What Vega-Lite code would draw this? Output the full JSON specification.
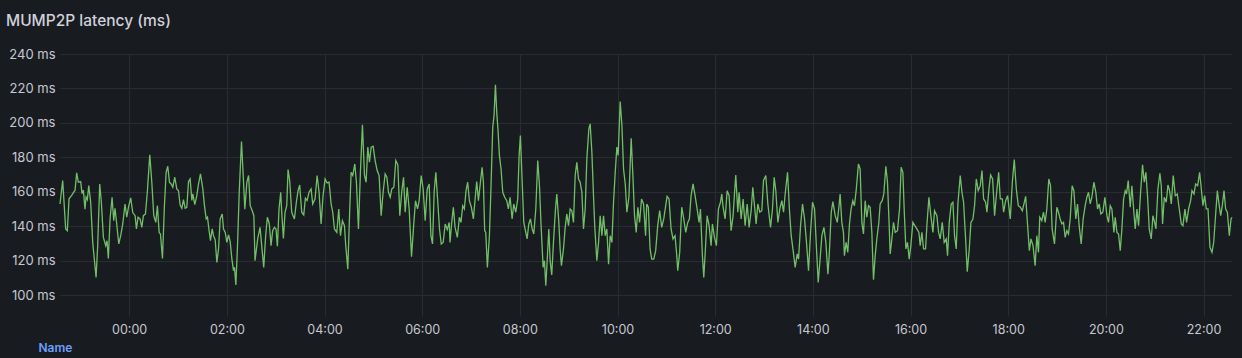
{
  "$schema": "https://vega.github.io/schema/vega-lite/v6.json",
  "width": 1172,
  "height": 262,
  "autosize": {"type": "none"},
  "padding": {"left": 60, "top": 54, "right": 10, "bottom": 42},
  "background": "#181b1f",
  "title": {
    "text": "MUMP2P latency (ms)",
    "anchor": "start",
    "frame": "group",
    "dx": -54,
    "offset": 19,
    "font": "Inter",
    "fontSize": 15.5,
    "fontWeight": 500,
    "color": "#d0d1dc"
  },
  "config": {
    "view": {"stroke": null},
    "font": "Inter"
  },
  "data": {
    "values": [
      {"m":-85,"v":153},{"m":-81.7,"v":166.6},{"m":-78,"v":138.5},{"m":-76,"v":137.5},{"m":-73.9,"v":156},{"m":-70.7,"v":158},{"m":-66.5,"v":161},{"m":-64.5,"v":171},{"m":-62.5,"v":165.6},{"m":-59.6,"v":166},{"m":-57.9,"v":159},{"m":-56.3,"v":161},{"m":-54.3,"v":150},{"m":-53,"v":157},{"m":-51.4,"v":155.5},{"m":-49.7,"v":163.6},{"m":-47.3,"v":154},{"m":-44.8,"v":130.7},{"m":-40.7,"v":110.4},{"m":-38.7,"v":128.8},{"m":-36.2,"v":164.6},{"m":-34.2,"v":154},{"m":-31.7,"v":133.6},{"m":-28.8,"v":128.8},{"m":-27.2,"v":131.7},{"m":-25.6,"v":121.4},{"m":-23.5,"v":144.3},{"m":-21,"v":156.9},{"m":-19,"v":143.3},{"m":-17.4,"v":150.5},{"m":-15.3,"v":141.4},{"m":-12.8,"v":129.8},{"m":-10.4,"v":134.6},{"m":-7.9,"v":141.4},{"m":-5.1,"v":153},{"m":-3,"v":145.3},{"m":-0.9,"v":151},{"m":1.9,"v":156.5},{"m":4.4,"v":148},{"m":7.3,"v":146.2},{"m":8.9,"v":138.5},{"m":10.9,"v":145.3},{"m":13.4,"v":144.3},{"m":15.5,"v":139.4},{"m":17.5,"v":146.2},{"m":20,"v":147.2},{"m":22.4,"v":160.7},{"m":25.3,"v":181.5},{"m":27.8,"v":165.6},{"m":30.2,"v":146.2},{"m":32.7,"v":142.3},{"m":34.7,"v":152},{"m":36.8,"v":136.5},{"m":38.4,"v":135.6},{"m":40.9,"v":121.4},{"m":43.3,"v":152},{"m":45.4,"v":171.4},{"m":47.4,"v":174.9},{"m":49.5,"v":165.6},{"m":51.5,"v":164.6},{"m":53.6,"v":162.7},{"m":56,"v":168.5},{"m":58.5,"v":161.7},{"m":60.6,"v":160.7},{"m":62.6,"v":152.4},{"m":64.7,"v":150.5},{"m":66.7,"v":155.5},{"m":68.8,"v":150.5},{"m":70.8,"v":151},{"m":72.9,"v":166},{"m":74.9,"v":167.5},{"m":77,"v":155},{"m":78.2,"v":158.8},{"m":80.6,"v":152.6},{"m":83.1,"v":157.8},{"m":85.2,"v":164.6},{"m":87.6,"v":170.4},{"m":90.5,"v":161.7},{"m":92.5,"v":152},{"m":94.6,"v":144.3},{"m":96.2,"v":145.3},{"m":98.3,"v":137},{"m":99.9,"v":131.7},{"m":102,"v":138.5},{"m":103.6,"v":134.6},{"m":105.7,"v":132.1},{"m":107.7,"v":119.1},{"m":109.8,"v":126.9},{"m":111.8,"v":144.3},{"m":114.3,"v":147.2},{"m":115.9,"v":138.5},{"m":118,"v":136.5},{"m":120,"v":130.7},{"m":122.1,"v":135},{"m":124.1,"v":131.1},{"m":126.2,"v":121},{"m":128.2,"v":114.3},{"m":129.4,"v":116.2},{"m":131.1,"v":106},{"m":133.1,"v":128.8},{"m":135.2,"v":159.8},{"m":138,"v":189.2},{"m":140.1,"v":169.5},{"m":142.1,"v":150},{"m":144.6,"v":165.6},{"m":146.7,"v":169.5},{"m":148.7,"v":152},{"m":151.2,"v":149.1},{"m":153.2,"v":146.2},
      {"m":154.6,"v":120.1},{"m":157.9,"v":132.7},{"m":160.8,"v":139.4},{"m":162.8,"v":128.8},{"m":165.3,"v":116.2},{"m":167.7,"v":134.6},{"m":169.8,"v":145.3},{"m":172.2,"v":141.4},{"m":174.3,"v":128.8},{"m":176.3,"v":137.5},{"m":178.4,"v":139.4},{"m":180.4,"v":138.5},{"m":182.1,"v":128.5},{"m":184.1,"v":150.1},{"m":186.2,"v":159.8},{"m":187.4,"v":148.2},{"m":189.5,"v":133},{"m":191.5,"v":148.2},{"m":193.6,"v":152},{"m":195.2,"v":173},{"m":197.2,"v":166.6},{"m":199.7,"v":148.2},{"m":203,"v":144.3},{"m":205.4,"v":154},{"m":207.5,"v":160.7},{"m":209.5,"v":164},{"m":212,"v":148.2},{"m":214.5,"v":146.6},{"m":216.5,"v":156.3},{"m":218.6,"v":155},{"m":221,"v":159.8},{"m":223.5,"v":161.7},{"m":225.5,"v":153},{"m":228.4,"v":156},{"m":230.9,"v":169.5},{"m":233.3,"v":159.8},{"m":235.8,"v":141.4},{"m":238.2,"v":157.8},{"m":240.7,"v":167.5},{"m":243.2,"v":165.2},{"m":245.6,"v":165.6},{"m":248.1,"v":153},{"m":250.1,"v":148.2},{"m":252.2,"v":138.5},{"m":255.1,"v":136.5},{"m":257.5,"v":150.1},{"m":259.6,"v":134.6},{"m":262,"v":143.3},{"m":264.5,"v":140.4},{"m":266.1,"v":128.8},{"m":268.6,"v":115.2},{"m":271,"v":150.1},{"m":272.7,"v":171.4},{"m":274.7,"v":169.5},{"m":277.2,"v":176.2},{"m":279.2,"v":165.6},{"m":281.7,"v":138.5},{"m":284.2,"v":172.4},{"m":286.6,"v":198.9},{"m":289.1,"v":169.5},{"m":291.1,"v":165.6},{"m":293.2,"v":186},{"m":295.2,"v":177.2},{"m":297.3,"v":186},{"m":299.7,"v":186.5},{"m":302.2,"v":178.2},{"m":304.7,"v":172.4},{"m":307.1,"v":169.5},{"m":309.6,"v":146.2},{"m":312,"v":159.8},{"m":314.5,"v":170.4},{"m":316.6,"v":168.5},{"m":318.6,"v":159.8},{"m":320.7,"v":156.9},{"m":322.7,"v":161.7},{"m":325.2,"v":162.7},{"m":327.6,"v":178.2},{"m":330.1,"v":175.7},{"m":332.5,"v":146.2},{"m":335,"v":160.7},{"m":337.1,"v":168.5},{"m":339.1,"v":148.2},{"m":341.6,"v":162.7},{"m":344,"v":150.1},{"m":346.9,"v":122.4},{"m":349.8,"v":142.3},{"m":351.8,"v":154.9},{"m":354.3,"v":150.1},{"m":356.3,"v":154.9},{"m":358.8,"v":169.5},{"m":361.2,"v":161.7},{"m":363.7,"v":143.3},{"m":366.2,"v":161.7},{"m":368.6,"v":164.6},{"m":370.7,"v":134.6},{"m":372.7,"v":129.8},{"m":374.8,"v":160.7},{"m":376.8,"v":171.4},{"m":378.9,"v":155.9},{"m":381.3,"v":138.5},{"m":383.4,"v":129.8},{"m":385.8,"v":130.7},{"m":388.3,"v":141.4},{"m":390.8,"v":138.1},{"m":393.2,"v":142.3},
      {"m":394.2,"v":130.7},{"m":396.3,"v":142.3},{"m":398.3,"v":151.1},{"m":400.4,"v":139.4},{"m":403.2,"v":133.6},{"m":405.7,"v":145.3},{"m":407.7,"v":142.3},{"m":409.8,"v":152},{"m":411.8,"v":150.1},{"m":413.9,"v":160.7},{"m":415.9,"v":165.6},{"m":418,"v":154.9},{"m":420.4,"v":151.1},{"m":422.9,"v":144.3},{"m":425.4,"v":157.8},{"m":427,"v":166},{"m":429.1,"v":154.9},{"m":431.1,"v":163.6},{"m":433.6,"v":174.3},{"m":435.2,"v":165.6},{"m":436.8,"v":137.5},{"m":438.1,"v":136.5},{"m":440.1,"v":116.2},{"m":442.6,"v":134.6},{"m":444.6,"v":163.6},{"m":446.7,"v":197.5},{"m":448.3,"v":204.3},{"m":450,"v":222.1},{"m":451.6,"v":206.3},{"m":453.2,"v":195.6},{"m":454.9,"v":181.1},{"m":456.9,"v":173.3},{"m":459,"v":159.8},{"m":461.4,"v":156.9},{"m":463.9,"v":154.9},{"m":465.9,"v":150.1},{"m":468,"v":156.9},{"m":470.5,"v":144.3},{"m":472.5,"v":153},{"m":475,"v":148.2},{"m":477.4,"v":155.9},{"m":479.1,"v":181.1},{"m":480.7,"v":192.7},{"m":482.8,"v":166.6},{"m":484.8,"v":142.3},{"m":487.3,"v":136.5},{"m":488.9,"v":132.7},{"m":491,"v":141.4},{"m":493,"v":144.3},{"m":495.1,"v":138.5},{"m":497.1,"v":135.6},{"m":499.6,"v":150.1},{"m":502,"v":178.2},{"m":504.1,"v":163.6},{"m":506.1,"v":140.4},{"m":508.6,"v":116.2},{"m":510.2,"v":120.1},{"m":511.9,"v":105.6},{"m":513.9,"v":123.1},{"m":515.6,"v":138.5},{"m":517.2,"v":120.1},{"m":519.2,"v":111.8},{"m":521.3,"v":130.7},{"m":523.8,"v":150.1},{"m":525.4,"v":158.8},{"m":527.9,"v":142.3},{"m":529.5,"v":126.9},{"m":531.1,"v":117.2},{"m":533.6,"v":126.9},{"m":535.7,"v":139.4},{"m":537.7,"v":147.2},{"m":539.8,"v":140.4},{"m":541.8,"v":150.1},{"m":543.9,"v":149.1},{"m":545.9,"v":142.3},{"m":548,"v":169.5},{"m":550,"v":177.2},{"m":552.1,"v":167.5},{"m":554.1,"v":165.6},{"m":556.2,"v":159.8},{"m":558.2,"v":138.5},{"m":560.3,"v":150.1},{"m":562.3,"v":179.1},{"m":564.8,"v":196.6},{"m":566.4,"v":199.5},{"m":568.5,"v":183},{"m":570.5,"v":157.8},{"m":572.1,"v":139.4},{"m":574.6,"v":120.1},{"m":576.7,"v":130.7},{"m":578.7,"v":146.2},{"m":580.8,"v":134.6},{"m":582.8,"v":146.2},{"m":584.9,"v":134.6},{"m":586.9,"v":138.5},{"m":589,"v":118.1},{"m":591,"v":134.6},{"m":593.1,"v":130.7},{"m":595.1,"v":154},{"m":597.2,"v":171.4},{"m":599.2,"v":186},{"m":600.8,"v":181.1},{"m":603.3,"v":212.4},{"m":605.4,"v":198.5},{"m":607.4,"v":173.3},{"m":609.5,"v":164.6},{"m":611.5,"v":148.2},{"m":614,"v":156.9},{"m":616.8,"v":191.1},{"m":618.9,"v":169.5},{"m":620.9,"v":146.2},{"m":623,"v":136.5},{"m":625,"v":151.1},{"m":627.1,"v":142.3},{"m":629.5,"v":155.9},{"m":632,"v":153},{"m":634.5,"v":134.6},
      {"m":635.9,"v":153},{"m":637.9,"v":151.1},{"m":640,"v":126.9},{"m":642,"v":121},{"m":644.5,"v":121},{"m":646.9,"v":125.9},{"m":649.4,"v":140.4},{"m":651.8,"v":149.1},{"m":654.3,"v":139.4},{"m":656.8,"v":144.3},{"m":659.2,"v":152},{"m":660.9,"v":157.4},{"m":663.3,"v":155.9},{"m":665.8,"v":138.5},{"m":668.2,"v":132.7},{"m":670.7,"v":134.6},{"m":672.8,"v":123},{"m":674,"v":114.3},{"m":676.4,"v":124.9},{"m":678.9,"v":151.1},{"m":681.4,"v":144.3},{"m":683.8,"v":136.5},{"m":686.3,"v":142.3},{"m":688.3,"v":144.3},{"m":690.4,"v":157.8},{"m":692.8,"v":164.6},{"m":695.3,"v":157.8},{"m":697.8,"v":150.1},{"m":700.2,"v":142.3},{"m":701.9,"v":150.1},{"m":704.3,"v":123},{"m":706,"v":110.4},{"m":708,"v":126.9},{"m":710.1,"v":146.2},{"m":712.5,"v":140.4},{"m":715,"v":128.8},{"m":716.6,"v":141.4},{"m":719.1,"v":133.6},{"m":721.5,"v":128.8},{"m":724,"v":150.1},{"m":726.5,"v":154},{"m":728.1,"v":158.8},{"m":729.7,"v":151.1},{"m":732.2,"v":144.3},{"m":734.7,"v":160.7},{"m":737.1,"v":157.8},{"m":739.6,"v":137.5},{"m":742,"v":146.2},{"m":743.7,"v":158.8},{"m":745.3,"v":169.8},{"m":747.8,"v":148.2},{"m":749.4,"v":159.8},{"m":751.9,"v":144.3},{"m":754.3,"v":155.9},{"m":756.8,"v":140.4},{"m":759.3,"v":153},{"m":761.7,"v":139.4},{"m":764.2,"v":149.1},{"m":766.2,"v":162.7},{"m":768.3,"v":152},{"m":770.3,"v":141.4},{"m":772.4,"v":153},{"m":774.8,"v":148.2},{"m":777.3,"v":149.1},{"m":779.4,"v":166.6},{"m":782.2,"v":169.5},{"m":784.7,"v":153},{"m":788,"v":139.4},{"m":790.4,"v":150.1},{"m":792.5,"v":168.5},{"m":794.5,"v":160.7},{"m":797,"v":142.3},{"m":799.4,"v":150.1},{"m":801.9,"v":154.9},{"m":804,"v":148.2},{"m":806,"v":158.8},{"m":808.9,"v":171.4},{"m":811.3,"v":149.1},{"m":813.4,"v":134.6},{"m":815.8,"v":125.9},{"m":818.3,"v":116.2},{"m":820.8,"v":124},{"m":822.4,"v":121},{"m":824.9,"v":140.4},{"m":827.3,"v":153},{"m":829.8,"v":144.3},{"m":832.2,"v":130.7},{"m":834.7,"v":114.3},{"m":837.2,"v":136.5},{"m":839.6,"v":154},{"m":842.1,"v":150.1},{"m":844.5,"v":126.9},{"m":846.6,"v":107.5},{"m":848.6,"v":119.1},{"m":851.1,"v":134.6},{"m":853.6,"v":139.4},{"m":856,"v":130.7},{"m":858.5,"v":112.3},{"m":860.1,"v":123},{"m":862.6,"v":148.2},{"m":864.6,"v":154.4},{"m":867.5,"v":146.2},{"m":870,"v":142.3},{"m":872.4,"v":153},
      {"m":873.5,"v":158.8},{"m":875.6,"v":142.3},{"m":877.6,"v":136.5},{"m":878.8,"v":123},{"m":880.9,"v":130.7},{"m":882.9,"v":124.9},{"m":885,"v":141.4},{"m":887,"v":150.1},{"m":889.1,"v":154.9},{"m":891.1,"v":152},{"m":893.2,"v":160.7},{"m":896,"v":176.2},{"m":898.1,"v":173.3},{"m":900.2,"v":142.3},{"m":902.2,"v":135.6},{"m":904.3,"v":154.9},{"m":906.3,"v":145.3},{"m":908.4,"v":152},{"m":910.4,"v":151.1},{"m":912.5,"v":136.5},{"m":914.5,"v":109},{"m":916.6,"v":123},{"m":918.6,"v":132.7},{"m":921.1,"v":142.3},{"m":922.7,"v":153},{"m":925.2,"v":154.9},{"m":927.2,"v":158.8},{"m":929.7,"v":174.9},{"m":931.7,"v":165.6},{"m":933.8,"v":140.4},{"m":935,"v":124},{"m":937.1,"v":132.7},{"m":939.1,"v":142.3},{"m":941.2,"v":136.5},{"m":944,"v":137.5},{"m":946.5,"v":150.1},{"m":948.5,"v":174.3},{"m":950.6,"v":171.4},{"m":952.2,"v":150.1},{"m":954.3,"v":126.9},{"m":956.3,"v":130.7},{"m":958.4,"v":121},{"m":960.4,"v":128.8},{"m":962.9,"v":142.3},{"m":965.3,"v":140.4},{"m":967.8,"v":138.5},{"m":970.3,"v":136.5},{"m":971.9,"v":128.8},{"m":974,"v":136.5},{"m":976,"v":126.9},{"m":978.5,"v":126.9},{"m":980.1,"v":140.4},{"m":982.6,"v":156.9},{"m":985,"v":146.2},{"m":987.5,"v":136.5},{"m":989.5,"v":149.1},{"m":992.4,"v":146.2},{"m":994.5,"v":136.5},{"m":996.5,"v":132.7},{"m":999,"v":142.3},{"m":1001.4,"v":130.7},{"m":1003.9,"v":132.7},{"m":1005.5,"v":123},{"m":1007.6,"v":142.3},{"m":1010,"v":153},{"m":1012.1,"v":154},{"m":1014.1,"v":134.6},{"m":1016.2,"v":126.9},{"m":1018.2,"v":153},{"m":1021.1,"v":169.5},{"m":1023.2,"v":159.8},{"m":1025.2,"v":154},{"m":1027.7,"v":132.7},{"m":1029.7,"v":113.7},{"m":1032.2,"v":126.9},{"m":1034.2,"v":142.3},{"m":1036.7,"v":144.3},{"m":1038.7,"v":152},{"m":1040.8,"v":167.5},{"m":1043.2,"v":160.7},{"m":1045.7,"v":163.6},{"m":1047.8,"v":172.4},{"m":1049.8,"v":155.9},{"m":1052.3,"v":154},{"m":1053.9,"v":148.2},{"m":1056.4,"v":161.7},{"m":1058.4,"v":169.8},{"m":1060.9,"v":167.5},{"m":1063.3,"v":146.2},{"m":1065.4,"v":157.8},{"m":1068.3,"v":171.4},{"m":1070.3,"v":155.9},{"m":1072.8,"v":155.9},{"m":1074.4,"v":148.2},{"m":1076.9,"v":154.9},{"m":1079.3,"v":157.8},{"m":1082.6,"v":144.3},{"m":1085.1,"v":165.6},{"m":1087.5,"v":178.8},{"m":1090,"v":161.7},{"m":1092.4,"v":152},{"m":1094.9,"v":151.1},{"m":1097.4,"v":149.1},{"m":1099.4,"v":153},{"m":1101.5,"v":157.4},{"m":1103.9,"v":140.4},{"m":1106,"v":125.9},{"m":1108,"v":132.7},{"m":1110.5,"v":128.8},
      {"m":1113.1,"v":117.2},{"m":1115.2,"v":134.6},{"m":1117.2,"v":124.9},{"m":1118.8,"v":145.3},{"m":1121.3,"v":143.3},{"m":1123.4,"v":148.2},{"m":1125.4,"v":142.3},{"m":1127.5,"v":150.1},{"m":1129.9,"v":167.5},{"m":1132,"v":163.6},{"m":1134,"v":138.5},{"m":1136.9,"v":129.8},{"m":1139.8,"v":151.1},{"m":1141.8,"v":148.2},{"m":1143.9,"v":144.3},{"m":1145.9,"v":141.4},{"m":1148,"v":142.3},{"m":1150,"v":133.6},{"m":1152.1,"v":137.5},{"m":1154.1,"v":135.6},{"m":1156.2,"v":144.3},{"m":1158.6,"v":163.6},{"m":1160.7,"v":160.7},{"m":1163.1,"v":144.3},{"m":1165.2,"v":153},{"m":1167.2,"v":140.4},{"m":1169.7,"v":129.8},{"m":1172.1,"v":144.3},{"m":1174.6,"v":152},{"m":1176.7,"v":156.9},{"m":1178.7,"v":159.8},{"m":1180.8,"v":153},{"m":1182.8,"v":156.9},{"m":1185.3,"v":165.6},{"m":1187.7,"v":159.8},{"m":1189.8,"v":150.1},{"m":1191.8,"v":153},{"m":1193.9,"v":147.2},{"m":1196.3,"v":148.2},{"m":1198.8,"v":156.9},{"m":1201.3,"v":146.2},{"m":1203.3,"v":142.3},{"m":1205.4,"v":152},{"m":1207.4,"v":150.1},{"m":1209.9,"v":136.5},{"m":1211.5,"v":145.3},{"m":1213.6,"v":136.5},{"m":1215.6,"v":135.6},{"m":1217.7,"v":125.9},{"m":1219.7,"v":138.5},{"m":1221.8,"v":155.9},{"m":1223.8,"v":160.7},{"m":1225.4,"v":158.8},{"m":1227.5,"v":166.6},{"m":1230,"v":151.1},{"m":1232,"v":163.6},{"m":1234.1,"v":150.1},{"m":1236.1,"v":138.5},{"m":1238.2,"v":150.1},{"m":1240.2,"v":140.4},{"m":1242.7,"v":159.8},{"m":1245.1,"v":175.7},{"m":1247.2,"v":165.6},{"m":1249.2,"v":171.4},{"m":1251.3,"v":156.9},{"m":1253.3,"v":138.5},{"m":1255.8,"v":132.7},{"m":1257.8,"v":146.2},{"m":1259.9,"v":142.3},{"m":1261.5,"v":138.5},{"m":1264,"v":161.7},{"m":1266.4,"v":170.8},{"m":1268.1,"v":163.6},{"m":1269.7,"v":141.4},{"m":1271.8,"v":156.9},{"m":1274.2,"v":154},{"m":1276.3,"v":164},{"m":1278.3,"v":160.7},{"m":1280.4,"v":153},{"m":1282.8,"v":169.5},{"m":1285.3,"v":157.8},{"m":1287.8,"v":158.8},{"m":1290.2,"v":150.1},{"m":1292.7,"v":141.4},{"m":1294.7,"v":140.4},{"m":1297.2,"v":150.1},{"m":1299.2,"v":142.3},{"m":1301.7,"v":150.1},{"m":1304.2,"v":154.9},{"m":1305.8,"v":160.7},{"m":1308.3,"v":158.8},{"m":1310.3,"v":164.6},{"m":1312.8,"v":163.6},{"m":1315.2,"v":171.4},{"m":1317.3,"v":161.7},{"m":1319.3,"v":152},{"m":1321.4,"v":157.8},{"m":1323.4,"v":150.1},{"m":1325.5,"v":150.1},{"m":1327.9,"v":127.9},{"m":1330.4,"v":124.9},{"m":1332.5,"v":130.7},{"m":1334.5,"v":144.3},{"m":1337,"v":160.7},{"m":1339,"v":153},{"m":1341.1,"v":146.2},{"m":1343.1,"v":152},{"m":1345.2,"v":160.7},{"m":1347.2,"v":150.1},{"m":1349.3,"v":148.2},{"m":1351.7,"v":134.6},{"m":1353.8,"v":144.3},{"m":1355,"v":145.3}
    ]
  },
  "mark": {"type": "line", "color": "#73bf69", "strokeWidth": 1.3, "interpolate": "linear"},
  "encoding": {
    "x": {
      "field": "m",
      "type": "quantitative",
      "scale": {"domain": [-85, 1355], "nice": false, "zero": false},
      "axis": {
        "values": [0, 120, 240, 360, 480, 600, 720, 840, 960, 1080, 1200, 1320],
        "labelExpr": "(datum.value < 600 ? '0' : '') + (datum.value / 60) + ':00'",
        "title": "Name",
        "titleX": -22,
        "titleY": 31,
        "titleAlign": "left",
        "titleBaseline": "middle",
        "titleColor": "#6e9fff",
        "titleFont": "Inter",
        "titleFontSize": 12,
        "titleFontWeight": 600,
        "domain": false,
        "ticks": false,
        "labelPadding": 7,
        "labelColor": "#c7c8d2",
        "labelFont": "Inter",
        "labelFontSize": 12.5,
        "grid": true,
        "gridColor": "#2b2c31",
        "gridWidth": 1
      }
    },
    "y": {
      "field": "v",
      "type": "quantitative",
      "scale": {"domain": [88, 240], "nice": false, "zero": false},
      "axis": {
        "values": [100, 120, 140, 160, 180, 200, 220, 240],
        "labelExpr": "datum.value + ' ms'",
        "title": null,
        "domain": false,
        "ticks": false,
        "labelPadding": 5,
        "labelColor": "#c7c8d2",
        "labelFont": "Inter",
        "labelFontSize": 13,
        "grid": true,
        "gridColor": "#2b2c31",
        "gridWidth": 1
      }
    }
  }
}
